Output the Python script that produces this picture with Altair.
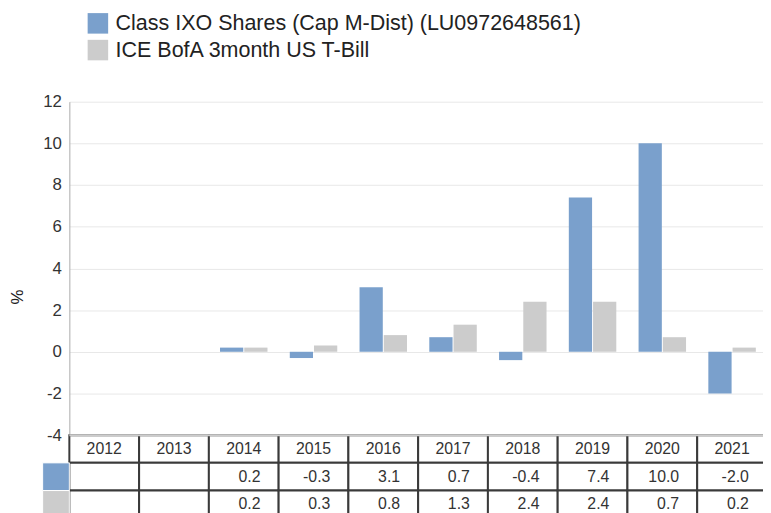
import altair as alt
import pandas as pd

# ---- data ----
years = ["2012", "2013", "2014", "2015", "2016", "2017", "2018", "2019", "2020", "2021"]
fund_name = "Class IXO Shares (Cap M-Dist) (LU0972648561)"
index_name = "ICE BofA 3month US T-Bill"
fund_values = [None, None, 0.2, -0.3, 3.1, 0.7, -0.4, 7.4, 10.0, -2.0]
index_values = [None, None, 0.2, 0.3, 0.8, 1.3, 2.4, 2.4, 0.7, 0.2]
y_ticks = [-4, -2, 0, 2, 4, 6, 8, 10, 12]
row_keys = ["header", "fund", "index"]
series_names = [fund_name, index_name]
series_colors = ["#7aa0cc", "#cccccc"]

# ---- tables built from the arrays ----
records = []
for name, key, vals in [(fund_name, "fund", fund_values), (index_name, "index", index_values)]:
    for yr, v in zip(years, vals):
        if v is not None:
            records.append(dict(year=yr, series=name, row=key, value=v, label=f"{v:.1f}"))
bars_df = pd.DataFrame(records)
cells_df = pd.DataFrame([dict(year=yr, row=r) for yr in years for r in row_keys])
header_df = pd.DataFrame(dict(year=years, row=["header"] * len(years)))
swatch_df = pd.DataFrame(dict(col=["key", "key"], row=["fund", "index"], series=series_names))
base_df = pd.DataFrame(dict(v=[y_ticks[0]]))

FONT = "Liberation Sans"
W, H = 701, 413
PLOT_H = 337

x_scale = alt.Scale(domain=years, range=[0, 705], paddingInner=0, paddingOuter=0)
y_scale = alt.Scale(domain=[y_ticks[0], y_ticks[-1]], range=[PLOT_H, 0], nice=False)
row_scale = alt.Scale(domain=row_keys, range=[PLOT_H, 421], paddingInner=0, paddingOuter=0)
color_scale = alt.Scale(domain=series_names, range=series_colors)

legend = alt.Legend(
    orient="none", legendX=18, legendY=-90, title=None,
    symbolType="square", symbolSize=430, symbolStrokeWidth=0, symbolOpacity=1,
    labelFontSize=21.7, labelFont=FONT, labelColor="#222222", labelLimit=700,
    labelOffset=7, rowPadding=4, padding=0,
)

x_year = alt.X("year:N", scale=x_scale, axis=None)
y_row = alt.Y("row:N", scale=row_scale, axis=None)

bars = alt.Chart(bars_df).mark_bar().encode(
    x=x_year,
    xOffset=alt.XOffset("series:N", scale=alt.Scale(domain=series_names, paddingInner=0.04, paddingOuter=0.46)),
    y=alt.Y(
        "value:Q", scale=y_scale,
        axis=alt.Axis(
            values=y_ticks, labelExpr="'' + datum.value", ticks=False, labelPadding=8,
            labelFontSize=17, labelFont=FONT, labelColor="#333333",
            grid=True, gridColor="#e8e8e8", domainColor="#aaaaaa",
            title="%", titleFontSize=17, titleFont=FONT, titleFontWeight="normal",
            titleColor="#222222", titleX=-52, titleY=197, titleAngle=270,
            titleAlign="center", titleBaseline="middle",
        ),
    ),
    color=alt.Color("series:N", scale=color_scale, legend=legend),
)

cells = alt.Chart(cells_df).mark_rect(fill="white", stroke="#3a3a3a", strokeWidth=2).encode(
    x=x_year, y=y_row
)

header = alt.Chart(header_df).mark_text(fontSize=16, font=FONT, color="#333333").encode(
    x=x_year, y=y_row, text="year:N"
)

values = alt.Chart(bars_df).mark_text(fontSize=16, font=FONT, color="#333333", align="right", dx=17).encode(
    x=x_year,
    y=y_row,
    text="label:N",
)

swatch = alt.Chart(swatch_df).mark_rect(stroke="white", strokeWidth=1).encode(
    x=alt.X("col:N", scale=alt.Scale(domain=["key"], range=[-27, 0], paddingInner=0, paddingOuter=0), axis=None),
    y=y_row,
    color=alt.Color("series:N", scale=color_scale, legend=legend),
)

baseline = alt.Chart(base_df).mark_rule(color="#cccccc", strokeWidth=2).encode(
    y=alt.Y("v:Q", scale=y_scale, axis=None)
)

chart = (
    alt.layer(bars, cells, header, values, swatch, baseline)
    .resolve_scale(x="independent", y="independent")
    .properties(
        width=W, height=H,
        autosize=alt.AutoSizeParams(type="none"),
        padding={"left": 62, "top": 92, "right": 0, "bottom": 0},
    )
    .configure_view(stroke=None)
)

chart.save("out.html", embed_options={"renderer": "svg", "actions": False})
